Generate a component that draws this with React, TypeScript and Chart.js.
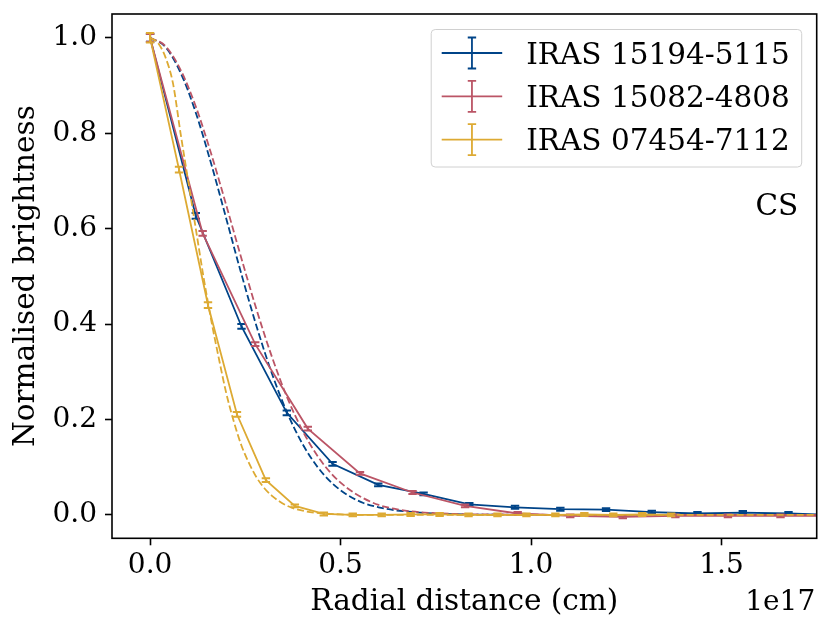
import React, { useEffect, useRef } from "react";
import { Chart, registerables } from "chart.js";

Chart.register(...registerables);

const FONT = '"DejaVu Serif", serif';

const SERIES_LABELS = ["IRAS 15194-5115", "IRAS 15082-4808", "IRAS 07454-7112"];
const COLORS = ["#004488", "#BB5566", "#DDAA33"];

// radial distance in units of 1e17 cm, brightness normalised to the centre
const blueR = [0, 0.12, 0.24, 0.359, 0.479, 0.599, 0.718, 0.838, 0.958, 1.077, 1.197, 1.317, 1.437, 1.556, 1.676, 1.796];
const blueI = [1.0, 0.627, 0.395, 0.214, 0.107, 0.063, 0.044, 0.022, 0.016, 0.012, 0.011, 0.006, 0.003, 0.005, 0.003, 0.0];
const blueErr = [0.008, 0.006, 0.005, 0.005, 0.004, 0.003, 0.003, 0.003, 0.003, 0.003, 0.003, 0.003, 0.003, 0.003, 0.003, 0.003];

const redR = [0, 0.138, 0.276, 0.414, 0.551, 0.689, 0.827, 0.965, 1.103, 1.241, 1.379, 1.517, 1.655, 1.793];
const redI = [1.0, 0.59, 0.358, 0.181, 0.087, 0.047, 0.019, 0.003, -0.002, -0.004, -0.002, -0.002, -0.002, -0.002];
const redErr = [0.008, 0.005, 0.004, 0.004, 0.003, 0.003, 0.003, 0.003, 0.003, 0.003, 0.003, 0.003, 0.003, 0.003];

const yellowR = [0, 0.076, 0.152, 0.228, 0.304, 0.38, 0.456, 0.532, 0.608, 0.684, 0.76, 0.836, 0.912, 0.988, 1.064, 1.14, 1.216, 1.292, 1.368];
const yellowI = [1.0, 0.724, 0.44, 0.211, 0.073, 0.019, 0.002, 0.0, 0.0, 0.001, 0.001, 0.0, 0.0, 0.0, 0.0, 0.001, 0.0, 0.001, 0.0];
const yellowErr = [0.01, 0.006, 0.006, 0.005, 0.004, 0.003, 0.003, 0.003, 0.003, 0.003, 0.003, 0.003, 0.003, 0.003, 0.003, 0.003, 0.003, 0.003, 0.003];

// model profiles (dashed)
const blueFitR = [0, 0.04, 0.08, 0.12, 0.16, 0.2, 0.24, 0.28, 0.32, 0.36, 0.4, 0.44, 0.48, 0.52, 0.56, 0.6, 0.64, 0.68, 0.72, 0.8, 0.9, 1.2, 1.76];
const blueFitI = [1.0, 0.981, 0.927, 0.843, 0.737, 0.621, 0.504, 0.394, 0.296, 0.214, 0.149, 0.1, 0.065, 0.041, 0.025, 0.016, 0.01, 0.007, 0.004, 0.0015, 0.0005, 0.0, 0.0];

const redFitR = [0, 0.04, 0.08, 0.12, 0.16, 0.2, 0.24, 0.28, 0.32, 0.36, 0.4, 0.44, 0.48, 0.52, 0.56, 0.6, 0.64, 0.68, 0.72, 0.8, 0.9, 1.2, 1.76];
const redFitI = [1.0, 0.983, 0.933, 0.856, 0.758, 0.649, 0.537, 0.429, 0.331, 0.246, 0.177, 0.123, 0.083, 0.055, 0.035, 0.021, 0.013, 0.008, 0.005, 0.002, 0.001, 0.0, 0.0];

const yellowFitR = [0, 0.02, 0.04, 0.06, 0.08, 0.1, 0.12, 0.14, 0.16, 0.18, 0.2, 0.22, 0.24, 0.26, 0.28, 0.3, 0.32, 0.34, 0.36, 0.38, 0.42, 0.46, 0.5, 0.6, 1.0, 1.76];
const yellowFitI = [1.0, 0.99, 0.96, 0.905, 0.8, 0.7, 0.6, 0.5, 0.41, 0.33, 0.255, 0.195, 0.145, 0.108, 0.078, 0.056, 0.04, 0.028, 0.019, 0.013, 0.006, 0.003, 0.001, 0.0, 0.0, 0.0];

const X_TICKS = [0, 0.5, 1.0, 1.5];
const Y_TICKS = [0, 0.2, 0.4, 0.6, 0.8, 1.0];

const CAP = 4.2;

const toPoints = (xs: number[], ys: number[]) => xs.map((x, i) => ({ x, y: ys[i] }));

const errorBarPlugin = {
  id: "errorBars",
  afterDatasetDraw(chart: any, args: any) {
    const ds = chart.data.datasets[args.index];
    if (!ds.errors) return;
    const { ctx, chartArea, scales } = chart;
    ctx.save();
    ctx.beginPath();
    ctx.rect(chartArea.left, chartArea.top, chartArea.right - chartArea.left, chartArea.bottom - chartArea.top);
    ctx.clip();
    ctx.strokeStyle = ds.borderColor;
    ctx.lineWidth = 2;
    ds.data.forEach((p: any, i: number) => {
      const e = ds.errors[i];
      const px = scales.x.getPixelForValue(p.x);
      const y1 = scales.y.getPixelForValue(p.y - e);
      const y2 = scales.y.getPixelForValue(p.y + e);
      ctx.beginPath();
      ctx.moveTo(px, y1);
      ctx.lineTo(px, y2);
      ctx.moveTo(px - CAP, y1);
      ctx.lineTo(px + CAP, y1);
      ctx.moveTo(px - CAP, y2);
      ctx.lineTo(px + CAP, y2);
      ctx.stroke();
    });
    ctx.restore();
  },
};

// frame, legend box and the extra texts
const decorPlugin = {
  id: "decor",
  afterDraw(chart: any) {
    const { ctx, chartArea } = chart;
    const { left, top, right, bottom } = chartArea;
    ctx.save();

    ctx.strokeStyle = "#000";
    ctx.lineWidth = 1.6;
    ctx.strokeRect(left, top, right - left, bottom - top);

    // legend
    const bx = right - 385.5;
    const by = top + 15.5;
    const bw = 370.5;
    const bh = 137.5;
    ctx.beginPath();
    ctx.roundRect(bx, by, bw, bh, 4);
    ctx.fillStyle = "rgba(255,255,255,0.8)";
    ctx.fill();
    ctx.strokeStyle = "#d0d0d0";
    ctx.lineWidth = 1;
    ctx.stroke();

    ctx.font = `29.5px ${FONT}`;
    ctx.textAlign = "left";
    ctx.textBaseline = "alphabetic";
    SERIES_LABELS.forEach((label, i) => {
      const cy = by + 23.5 + i * 43.3;
      const x0 = bx + 10.5;
      const x1 = x0 + 60.5;
      const cx = (x0 + x1) / 2;
      ctx.strokeStyle = COLORS[i];
      ctx.lineWidth = 1.8;
      ctx.beginPath();
      ctx.moveTo(x0, cy);
      ctx.lineTo(x1, cy);
      ctx.moveTo(cx, cy - 15.5);
      ctx.lineTo(cx, cy + 15.5);
      ctx.moveTo(cx - CAP, cy - 15.5);
      ctx.lineTo(cx + CAP, cy - 15.5);
      ctx.moveTo(cx - CAP, cy + 15.5);
      ctx.lineTo(cx + CAP, cy + 15.5);
      ctx.stroke();
      ctx.fillStyle = "#000";
      ctx.fillText(label, bx + 95, cy + 10.8);
    });

    ctx.fillStyle = "#000";
    ctx.textAlign = "right";
    ctx.fillText("CS", right - 18.5, top + 201);
    ctx.font = `28px ${FONT}`;
    ctx.fillText("1e17", right - 1.5, 609.5);
    ctx.restore();
  },
};

export default function App() {
  const canvasRef = useRef<HTMLCanvasElement>(null);

  useEffect(() => {
    document.body.style.margin = "0";
    if (!canvasRef.current) return;

    const solid = (i: number, xs: number[], ys: number[], err: number[], order: number) => ({
      label: SERIES_LABELS[i],
      data: toPoints(xs, ys),
      errors: err,
      borderColor: COLORS[i],
      borderWidth: 1.8,
      pointRadius: 0,
      tension: 0,
      order,
    });
    const dashed = (i: number, xs: number[], ys: number[], order: number) => ({
      label: SERIES_LABELS[i] + " model",
      data: toPoints(xs, ys),
      borderColor: COLORS[i],
      borderWidth: 1.8,
      borderDash: [7, 3],
      pointRadius: 0,
      cubicInterpolationMode: "monotone",
      order,
    });

    const chart = new Chart(canvasRef.current, {
      type: "line",
      data: {
        datasets: [
          solid(0, blueR, blueI, blueErr, 6),
          dashed(0, blueFitR, blueFitI, 5),
          solid(1, redR, redI, redErr, 4),
          dashed(1, redFitR, redFitI, 3),
          solid(2, yellowR, yellowI, yellowErr, 2),
          dashed(2, yellowFitR, yellowFitI, 1),
        ] as any,
      },
      options: {
        animation: false,
        responsive: true,
        maintainAspectRatio: false,
        events: [],
        layout: { padding: { left: 0, right: 14.3, top: 14, bottom: 0 } },
        plugins: { legend: { display: false }, tooltip: { enabled: false } },
        scales: {
          x: {
            type: "linear",
            min: -0.1,
            max: 1.75,
            afterFit: (s: any) => {
              s.height = 93.7;
              s.paddingLeft = 0;
              s.paddingRight = 0;
            },
            afterBuildTicks: (s: any) => {
              s.ticks = X_TICKS.map((value) => ({ value }));
            },
            border: { display: false },
            grid: { drawOnChartArea: false, tickLength: 7, tickWidth: 1.6, tickColor: "#000" },
            ticks: {
              padding: 4,
              color: "#000",
              font: { family: FONT, size: 28 },
              maxRotation: 0,
              callback: (v: any) => Number(v).toFixed(1),
            },
            title: {
              display: true,
              text: "Radial distance (cm)",
              color: "#000",
              font: { family: FONT, size: 29.5 },
              padding: { top: 0, bottom: 11.5 },
            },
          },
          y: {
            type: "linear",
            min: -0.049,
            max: 1.05,
            afterFit: (s: any) => {
              s.width = 112;
              s.paddingTop = 0;
              s.paddingBottom = 0;
            },
            afterBuildTicks: (s: any) => {
              s.ticks = Y_TICKS.map((value) => ({ value }));
            },
            border: { display: false },
            grid: { drawOnChartArea: false, tickLength: 7, tickWidth: 1.6, tickColor: "#000" },
            ticks: {
              padding: 8,
              color: "#000",
              font: { family: FONT, size: 28 },
              callback: (v: any) => Number(v).toFixed(1),
            },
            title: {
              display: true,
              text: "Normalised brightness",
              color: "#000",
              font: { family: FONT, size: 29.5 },
              padding: { top: 8.6, bottom: 0 },
            },
          },
        },
      },
      plugins: [errorBarPlugin, decorPlugin],
    });

    return () => {
      chart.destroy();
    };
  }, []);

  return (
    <div style={{ position: "relative", width: 831, height: 632, background: "#fff" }}>
      <canvas ref={canvasRef} />
    </div>
  );
}
